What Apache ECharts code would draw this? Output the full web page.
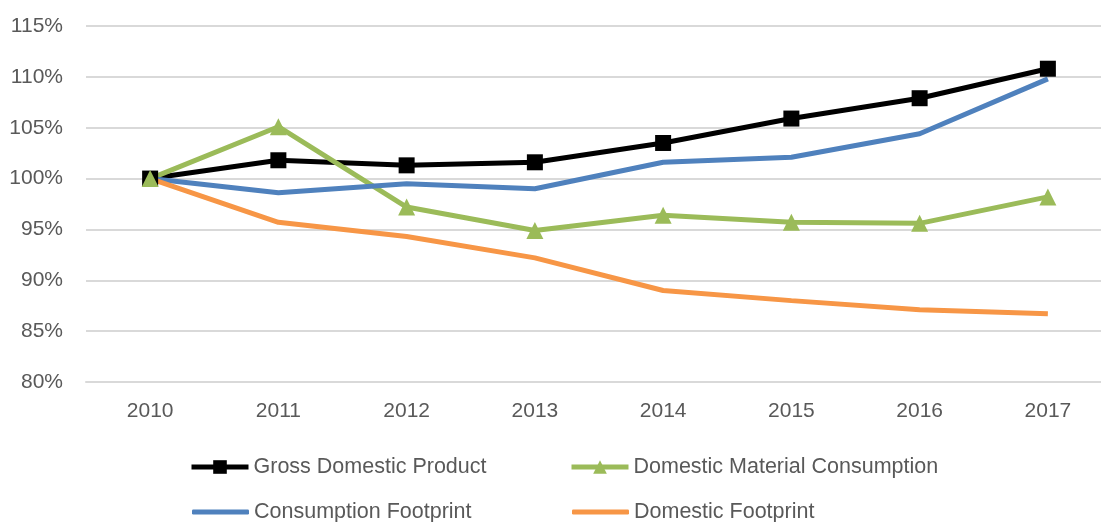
<!DOCTYPE html>
<html>
<head>
<meta charset="utf-8">
<script src="https://cdn.jsdelivr.net/npm/echarts@6/dist/echarts.min.js"></script>
<style>
  html, body { margin: 0; padding: 0; background: #fff; overflow: hidden; }
  /* the original plot runs a little past the right edge of the picture */
  #main { width: 1112px; height: 522px; }
</style>
</head>
<body>
<div id="main"></div>
<script>
var years = ['2010', '2011', '2012', '2013', '2014', '2015', '2016', '2017'];
var gdp = [100, 101.8, 101.3, 101.6, 103.5, 105.9, 107.9, 110.8];
var dmc = [100, 105.1, 97.2, 94.9, 96.4, 95.7, 95.6, 98.2];
var consFootprint = [100, 98.6, 99.5, 99.0, 101.6, 102.1, 104.4, 109.8];
var domFootprint = [100, 95.7, 94.3, 92.2, 89.0, 88.0, 87.1, 86.7];

var txt = '#595959';
var font = 'Liberation Sans';

// one legend per entry so the two columns line up like the original
function legendAt(name, left, top, plain) {
  return {
    data: plain ? [{ name: name, icon: 'roundRect' }] : [name],
    left: left,
    top: top,
    itemWidth: 57,
    itemHeight: plain ? 5 : 17,
    itemGap: 4,
    padding: 0,
    lineStyle: { width: 5 },
    textStyle: { color: txt, fontSize: 21.5, fontFamily: font }
  };
}

var option = {
  animation: false,
  grid: { left: 86, right: 0, top: 26, bottom: 140 },
  legend: [
    legendAt('Gross Domestic Product', 189, 456),
    legendAt('Domestic Material Consumption', 569, 456),
    legendAt('Consumption Footprint', 192, 501, true),
    legendAt('Domestic Footprint', 572, 501, true)
  ],
  xAxis: {
    type: 'category',
    data: years,
    boundaryGap: true,
    axisLine: { lineStyle: { color: '#d9d9d9', width: 2 } },
    axisTick: { show: false },
    axisLabel: { color: txt, fontSize: 21, fontFamily: font, margin: 19 }
  },
  yAxis: {
    type: 'value',
    min: 80,
    max: 115,
    interval: 5,
    axisLine: { show: false },
    axisTick: { show: false },
    splitLine: { lineStyle: { color: '#d9d9d9', width: 2 } },
    axisLabel: {
      color: txt, fontSize: 21, fontFamily: font, margin: 23,
      formatter: function (v) { return v + '%'; }
    }
  },
  series: [
    {
      name: 'Gross Domestic Product', type: 'line', data: gdp,
      symbol: 'rect', symbolSize: 16, color: '#000000',
      lineStyle: { width: 5, color: '#000000' },
      itemStyle: { color: '#000000' }
    },
    {
      name: 'Domestic Material Consumption', type: 'line', data: dmc,
      symbol: 'triangle', symbolSize: 17, color: '#9bbb59',
      lineStyle: { width: 5, color: '#9bbb59' },
      itemStyle: { color: '#9bbb59' }
    },
    {
      name: 'Consumption Footprint', type: 'line', data: consFootprint,
      symbol: 'none', color: '#4f81bd',
      lineStyle: { width: 5, color: '#4f81bd' },
      itemStyle: { color: '#4f81bd' }
    },
    {
      name: 'Domestic Footprint', type: 'line', data: domFootprint,
      symbol: 'none', color: '#f79646',
      lineStyle: { width: 5, color: '#f79646' },
      itemStyle: { color: '#f79646' }
    }
  ]
};

var chart = echarts.init(document.getElementById('main'));
chart.setOption(option);
</script>
</body>
</html>
